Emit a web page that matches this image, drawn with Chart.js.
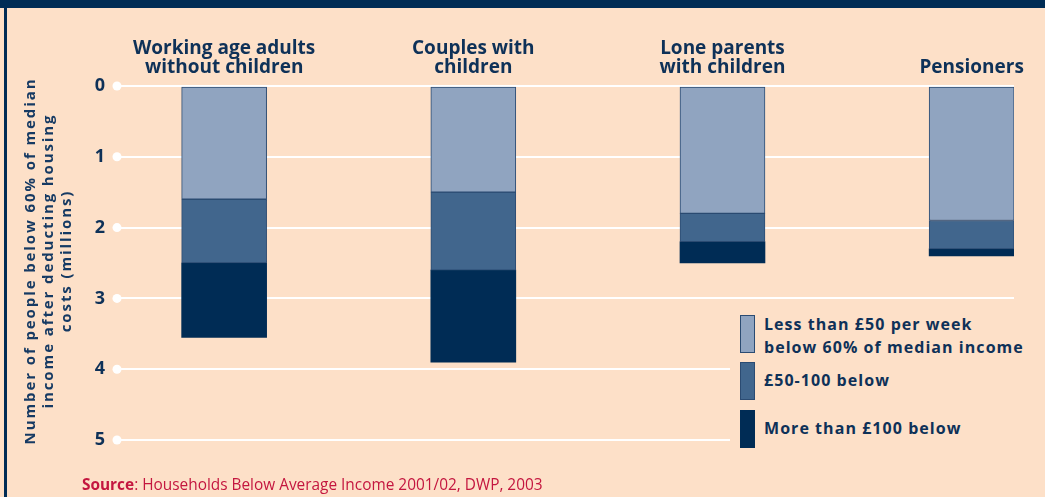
<!DOCTYPE html>
<html>
<head>
<meta charset="utf-8">
<script src="https://cdn.jsdelivr.net/npm/chart.js@4/dist/chart.umd.min.js"></script>
<style>
  html, body { margin:0; padding:0; background:#fde0c8; }
  body { width:1045px; height:497px; position:relative; overflow:hidden; font-family:"Open Sans", sans-serif; }
  #topband { position:absolute; left:0; top:0; width:1045px; height:8px; background:#002c55; }
  #leftline { position:absolute; left:4px; top:8px; width:3px; height:489px; background:#002c55; }
  #wrap { position:absolute; left:0; top:0; width:1045px; height:497px; }
  #ytitle { position:absolute; left:47px; top:261px; width:440px; transform:translate(-50%,-50%) rotate(-90deg);
    text-align:center; color:#163a63; font-weight:700; font-size:15px; line-height:18px; letter-spacing:1.9px; white-space:nowrap; }
  #legend { position:absolute; left:730px; top:306px; width:312px; height:150px; background:#fde0c8; }
  .item { position:absolute; left:10px; }
  .box { position:absolute; left:0; top:0; width:15px; height:38px; box-sizing:border-box; border:1px solid #2b4b72; }
  .txt { position:absolute; left:24px; color:#0e3158; font-weight:700; font-size:16px; line-height:23px; letter-spacing:1.05px; white-space:nowrap; }
  #source { position:absolute; left:82px; top:474px; color:#c4163f; font-size:15.4px; white-space:nowrap; }
</style>
</head>
<body>
<div id="wrap"><canvas id="c" width="1045" height="497"></canvas></div>
<div id="topband"></div>
<div id="leftline"></div>
<div id="ytitle"></div>
<div id="legend"></div>
<div id="source"><b>Source</b>: Households Below Average Income 2001/02, DWP, 2003</div>
<script>
// ---- data ----
const categories = [
  ["Working age adults", "without children"],
  ["Couples with", "children"],
  ["Lone parents", "with children"],
  ["Pensioners"]
];
const seriesNames = [
  ["Less than £50 per week", "below 60% of median income"],
  ["£50-100 below"],
  ["More than £100 below"]
];
const lessThan50 = [1.6, 1.5, 1.8, 1.9];
const from50to100 = [0.9, 1.1, 0.4, 0.4];
const moreThan100 = [1.05, 1.3, 0.3, 0.1];
const yTicks = [0, 1, 2, 3, 4, 5];
const yTitle = ["Number of people below 60% of median", "income after deducting housing", "costs (millions)"];

// ---- styles ----
const colors = ["#90a4c0", "#41668d", "#002c55"];
const borderCols = ["#2b4b72", "#2b4b72", "#002c55"];
const borderW = [1, 1, 0];
const navy = "#0e3158";

document.getElementById('ytitle').innerHTML = yTitle.join('<br>');

const legend = document.getElementById('legend');
const legendTops = [9, 56, 104];
seriesNames.forEach((lines, i) => {
  const it = document.createElement('div');
  it.className = 'item';
  it.style.top = legendTops[i] + 'px';
  const b = document.createElement('div');
  b.className = 'box';
  b.style.background = colors[i];
  b.style.borderColor = borderCols[i];
  it.appendChild(b);
  const t = document.createElement('div');
  t.className = 'txt';
  t.style.top = (lines.length > 1 ? -2 : 7) + 'px';
  t.innerHTML = lines.join('<br>');
  it.appendChild(t);
  legend.appendChild(it);
});

const toPoints = arr => arr.map((v, i) => ({ x: i, y: v }));
const seriesData = [lessThan50, from50to100, moreThan100];

const dotPlugin = {
  id: 'tickDots',
  afterDatasetsDraw(chart) {
    const ys = chart.scales.y, ctx = chart.ctx;
    ctx.save();
    ctx.fillStyle = '#ffffff';
    ys.ticks.forEach(t => {
      ctx.beginPath();
      ctx.arc(chart.chartArea.left, ys.getPixelForValue(t.value), 4.5, 0, Math.PI * 2);
      ctx.fill();
    });
    ctx.restore();
  }
};

new Chart(document.getElementById('c'), {
  type: 'bar',
  data: {
    datasets: seriesData.map((d, i) => ({
      label: seriesNames[i].join(' '),
      data: toPoints(d),
      backgroundColor: colors[i],
      borderColor: borderCols[i],
      borderWidth: borderW[i],
      borderSkipped: false,
      barThickness: 85,
      stack: 's'
    }))
  },
  options: {
    responsive: false,
    animation: false,
    layout: { padding: { left: 0, right: 31, top: 0, bottom: 57 } },
    plugins: { legend: { display: false }, tooltip: { enabled: false } },
    scales: {
      x: {
        type: 'linear',
        position: 'top',
        stacked: true,
        offset: false,
        min: -0.43,
        max: 3.17,
        afterBuildTicks: s => { s.ticks = categories.map((c, i) => ({ value: i })); },
        afterFit: s => { s.height = 86; },
        grid: { display: false, offset: false },
        border: { display: false },
        ticks: {
          autoSkip: false,
          maxRotation: 0,
          padding: 1,
          color: navy,
          font: { family: "Open Sans", weight: 'bold', size: 19, lineHeight: 1.0 },
          callback: v => categories[v]
        }
      },
      y: {
        stacked: true,
        reverse: true,
        min: 0,
        max: 5,
        afterBuildTicks: s => { s.ticks = yTicks.map(v => ({ value: v })); },
        afterFit: s => { s.width = 117; },
        grid: { color: '#ffffff', lineWidth: 2, drawTicks: false },
        border: { display: false },
        ticks: {
          padding: 12,
          color: navy,
          font: { family: "Open Sans", weight: 'bold', size: 18 }
        }
      }
    }
  },
  plugins: [dotPlugin]
});
</script>
</body>
</html>
